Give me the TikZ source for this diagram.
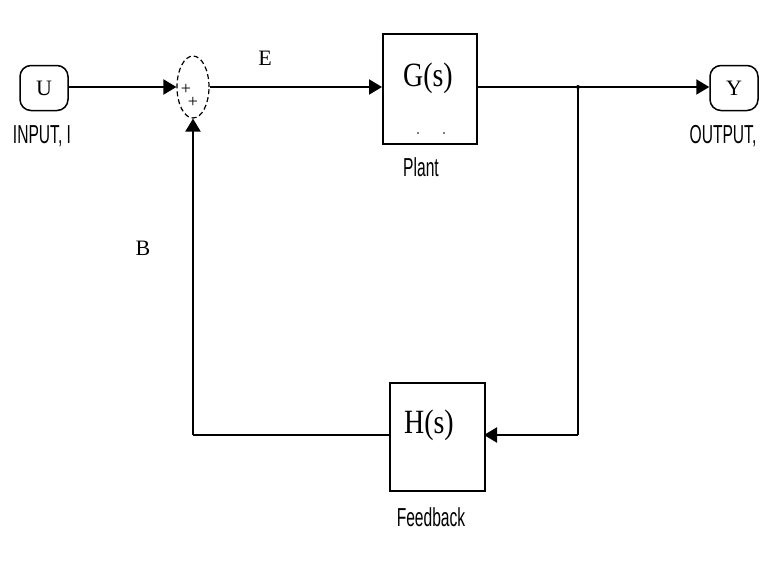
\documentclass[tikz,border=0pt]{standalone}
\usepackage{fontspec}
\setmainfont{Liberation Serif}
\setsansfont{Liberation Sans}
\usetikzlibrary{arrows.meta,shapes.geometric}
\begin{document}
\begin{tikzpicture}[x=1pt,y=-1pt,
  wire/.style={line width=2pt},
  arr/.style={wire,-{Triangle[length=13pt,width=15pt]}},
  blk/.style={draw,line width=1.6pt,minimum width=94pt,anchor=north west,inner sep=0},
  term/.style={draw,line width=1.5pt,rounded corners=11pt,minimum width=48pt,minimum height=45pt,inner sep=0},
  lbl/.style={font=\sffamily\fontsize{26}{26}\selectfont,xscale=0.6},
  big/.style={font=\fontsize{34}{34}\selectfont,xscale=0.82},
  sym/.style={font=\fontsize{22}{22}\selectfont}]
\useasboundingbox (0,0) rectangle (779,563);
% terminals
\node[term,sym] (U) at (44,88) {U};
\node[lbl] (inlbl) at (42,136) {INPUT, I};
\node[term,sym] (Y) at (734,88) {Y};
\node[lbl] (outlbl) at (723,136) {OUTPUT,};
% sum
\node[draw,dash pattern=on 5pt off 3pt,ellipse,line width=1.2pt,minimum width=32pt,minimum height=62pt,inner sep=0] (S) at (193,87) {};
\node[font=\fontsize{18}{18}\selectfont] (p1) at (186,89) {+};
\node[font=\fontsize{18}{18}\selectfont] (p2) at (193,102) {+};
% plant
\node[blk,minimum height=110pt] (G) at (382,33) {};
\node[big] (Gt) at (428,78) {G(s)};
\node[lbl] (pl) at (421,167) {Plant};
\fill (418,133) circle (0.9pt) (444,133) circle (0.9pt);
% feedback
\node[blk,minimum width=95pt,minimum height=108pt] (H) at (389,382) {};
\node[big] (Ht) at (429,425) {H(s)};
\node[lbl] (fb) at (431,517) {Feedback};
% labels
\node[sym] (E) at (265,58) {E};
\node[sym] (B) at (143,248) {B};
% coordinates
\coordinate (J) at (578,87);
\coordinate (C1) at (578,435);
\coordinate (C2) at (193,435);
\coordinate (Hr) at (484,435);
\coordinate (Hl) at (389,435);
% wires
\draw[arr] (U.east |- 0,87) -- (S.west);
\draw[arr] (S.east) -- (G.west |- S.east);
\draw[arr] (G.east |- J) -- (Y.west |- J);
\fill (J) circle (2pt);
\draw[wire] (J) -- (C1);
\draw[arr] (C1) -- (Hr);
\draw[wire] (Hl) -- (C2);
\draw[arr] (C2) -- (S.south);
\end{tikzpicture}
\end{document}
